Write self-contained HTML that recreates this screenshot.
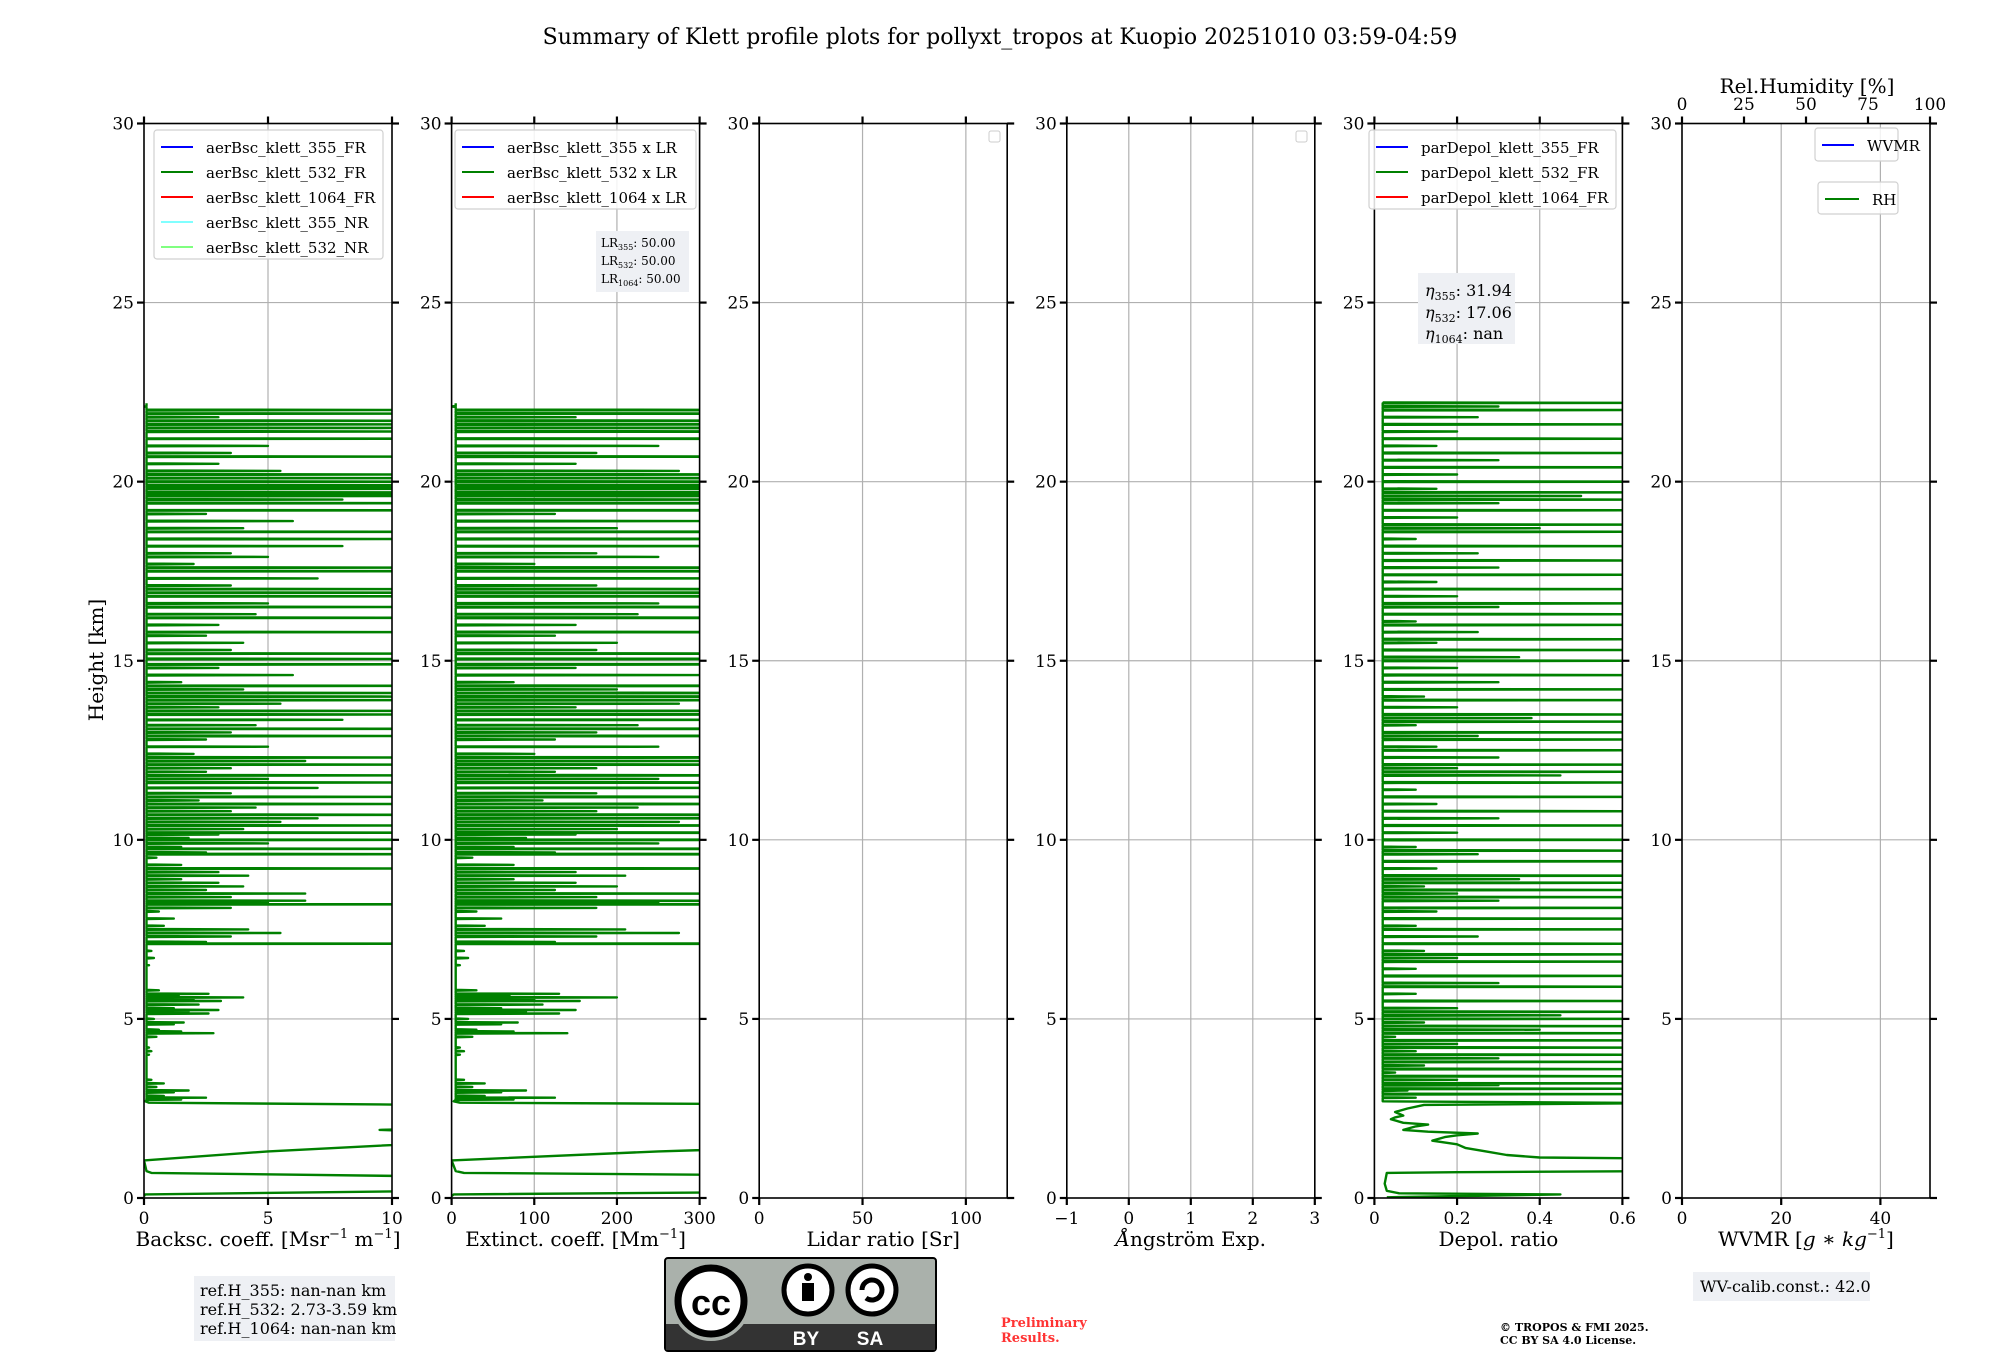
<!DOCTYPE html>
<html><head><meta charset="utf-8">
<style>
html,body{margin:0;padding:0;background:#fff;}
svg{display:block;font-family:"DejaVu Serif","Liberation Serif",serif;}
</style></head>
<body>
<svg id="fig" width="2000" height="1360" viewBox="0 0 2000 1360" xmlns="http://www.w3.org/2000/svg">
<rect width="2000" height="1360" fill="#fff"/>
<text x="1000" y="44" font-size="22" text-anchor="middle">Summary of Klett profile plots for pollyxt_tropos at Kuopio 20251010 03:59-04:59</text>
<text transform="translate(103,660) rotate(-90)" font-size="20" text-anchor="middle">Height [km]</text>
<g id="panels"></g>
<g>
<rect x="194" y="1276" width="201" height="65" fill="#eef0f4"/>
<text x="200" y="1296" font-size="16">ref.H_355: nan-nan km</text>
<text x="200" y="1315" font-size="16">ref.H_532: 2.73-3.59 km</text>
<text x="200" y="1334" font-size="16">ref.H_1064: nan-nan km</text>
</g>
<g>
<rect x="1693" y="1272" width="177" height="29" fill="#eef0f4"/>
<text x="1700" y="1292" font-size="16">WV-calib.const.: 42.0</text>
</g>
<g>
<rect x="665" y="1258" width="271" height="93" rx="3" fill="#aab1ab" stroke="#000" stroke-width="2"/>
<rect x="666" y="1324" width="269" height="26" fill="#333"/>
<circle cx="711" cy="1301" r="40" fill="#aab1ab"/>
<circle cx="711" cy="1301" r="33" fill="#fff" stroke="#000" stroke-width="7"/>
<text x="711" y="1315" font-size="36" font-weight="bold" text-anchor="middle" font-family="Liberation Sans,sans-serif">cc</text>
<circle cx="808" cy="1290" r="24" fill="#fff" stroke="#000" stroke-width="5"/>
<circle cx="808" cy="1277" r="4" fill="#000"/>
<rect x="802" y="1283" width="12" height="18" fill="#000"/>
<circle cx="872" cy="1290" r="24" fill="#fff" stroke="#000" stroke-width="5"/>
<path d="M862 1290 a10 10 0 1 1 4 8" fill="none" stroke="#000" stroke-width="5"/>
<text x="806" y="1345" font-size="19" font-weight="bold" fill="#fff" text-anchor="middle" font-family="Liberation Sans,sans-serif">BY</text>
<text x="870" y="1345" font-size="19" font-weight="bold" fill="#fff" text-anchor="middle" font-family="Liberation Sans,sans-serif">SA</text>
</g>
<text x="1001" y="1327" font-size="13" font-weight="bold" fill="#ff3333">Preliminary</text>
<text x="1001" y="1342" font-size="13" font-weight="bold" fill="#ff3333">Results.</text>
<text x="1500" y="1331" font-size="11" font-weight="bold">© TROPOS &amp; FMI 2025.</text>
<text x="1500" y="1344" font-size="11" font-weight="bold">CC BY SA 4.0 License.</text>
<rect x="989" y="131" width="11" height="11" rx="2" fill="#fff" stroke="#ccc"/>
<rect x="1296" y="131" width="11" height="11" rx="2" fill="#fff" stroke="#ccc"/>
<g><rect x="596" y="231" width="93" height="61" fill="#eef0f4"/>
<text x="601" y="247" font-size="12">LR<tspan font-size="8" dy="3">355</tspan><tspan dy="-3">: 50.00</tspan></text>
<text x="601" y="265" font-size="12">LR<tspan font-size="8" dy="3">532</tspan><tspan dy="-3">: 50.00</tspan></text>
<text x="601" y="283" font-size="12">LR<tspan font-size="8" dy="3">1064</tspan><tspan dy="-3">: 50.00</tspan></text></g>
<g><rect x="1418" y="273" width="97" height="71" fill="#eef0f4"/>
<text x="1425" y="296" font-size="16"><tspan font-style="italic">η</tspan><tspan font-size="11" dy="4">355</tspan><tspan dy="-4">: 31.94</tspan></text>
<text x="1425" y="318" font-size="16"><tspan font-style="italic">η</tspan><tspan font-size="11" dy="4">532</tspan><tspan dy="-4">: 17.06</tspan></text>
<text x="1425" y="339" font-size="16"><tspan font-style="italic">η</tspan><tspan font-size="11" dy="4">1064</tspan><tspan dy="-4">: nan</tspan></text></g>
</svg>
<script>
// ---- data ----
// continuous lower profile (km, value)
const lowBscH = [0.05,0.1,0.2,0.6,0.7,0.75,1.05,1.3,1.55,1.85,1.9,1.95,2.6,2.66,2.7];
const lowBscV = [0,0.05,12,12,0.3,0.1,0,5,12,12,9.5,12,12,0.2,0.05];
// spikes above (km, value)
const spikeBscH = [2.75,2.8,2.85,2.95,3.0,3.1,3.2,3.3,4.0,4.1,4.2,4.5,4.6,4.65,4.7,4.85,4.9,5.0,5.15,5.2,5.25,5.3,5.4,5.5,5.55,5.6,5.65,5.7,5.8,6.5,6.7,6.9,7.1,7.15,7.3,7.4,7.5,7.6,7.8,8.0,8.1,8.2,8.25,8.3,8.4,8.5,8.6,8.7,8.8,8.9,9.0,9.1,9.2,9.3,9.5,9.6,9.65,9.75,9.8,9.9,10.0,10.05,10.15,10.2,10.3,10.4,10.5,10.6,10.7,10.8,10.9,11.0,11.1,11.2,11.3,11.45,11.6,11.7,11.8,11.9,12.0,12.1,12.2,12.3,12.4,12.6,12.8,12.9,13.0,13.1,13.2,13.35,13.5,13.6,13.7,13.8,13.9,14.0,14.1,14.2,14.3,14.4,14.6,14.8,14.9,15.05,15.2,15.3,15.5,15.7,15.8,16.0,16.2,16.3,16.5,16.6,16.8,16.9,17.0,17.1,17.3,17.5,17.6,17.7,17.9,18.0,18.2,18.4,18.6,18.7,18.9,19.1,19.2,19.4,19.5,19.6,19.65,19.7,19.8,19.85,19.9,20.0,20.1,20.2,20.3,20.5,20.7,20.8,21.0,21.2,21.4,21.5,21.6,21.7,21.8,21.9,22.0,22.1,22.2,22.3];
const spikeBscV = [1.5,2.5,0.8,1.2,1.8,0.5,0.8,0.3,0.2,0.3,0.2,0.5,2.8,1.5,0.6,1.2,1.6,0.4,2.6,1.8,3.0,1.2,2.2,3.1,2.0,4.0,1.4,2.6,0.6,0.2,0.4,0.3,12,2.5,3.5,5.5,4.2,0.8,1.2,0.6,3.5,12,5,6.5,3.5,6.5,2.5,4,3,1.5,4.2,3,12,1.5,0.5,12,2.5,12,1.5,5,12,1.8,3,12,4,12,5.5,7,12,3.5,4.5,12,2.2,12,3.5,7,12,5,12,2.5,3.5,12,6.5,12,2,5,2.5,12,3.5,12,4.5,8,12,12,3,5.5,12,12,12,4,12,1.5,6,3,12,12,12,3.5,4,2.5,12,3,12,4.5,12,5,12,12,12,3.5,7,12,12,2,5,3.5,8,12,12,4,6,2.5,12,12,8,12,12,12,12,12,12,12,12,12,5.5,3,12,3.5,5,12,12,12,12,12,3,12,12,0];
const lidarRatio = [50,50,50];
const lowDepH = [0.02,0.1,0.13,0.2,0.4,0.7,0.72,0.75,1.1,1.13,1.2,1.3,1.4,1.5,1.6,1.7,1.75,1.8,1.85,1.9,2.0,2.05,2.1,2.2,2.25,2.3,2.4,2.5,2.6,2.65,2.7];
const lowDepV = [0.03,0.45,0.06,0.03,0.025,0.03,0.2,0.7,0.7,0.4,0.32,0.27,0.22,0.2,0.14,0.17,0.2,0.25,0.13,0.07,0.1,0.13,0.07,0.04,0.05,0.07,0.05,0.08,0.12,0.7,0.02];
const spikeDepH = [2.8,2.9,3.0,3.05,3.15,3.2,3.3,3.4,3.5,3.6,3.7,3.8,3.9,4.0,4.1,4.2,4.3,4.4,4.5,4.6,4.7,4.8,4.9,5.0,5.1,5.2,5.3,5.5,5.7,5.9,6.0,6.2,6.4,6.6,6.7,6.8,6.9,7.1,7.3,7.5,7.6,7.8,8.0,8.1,8.3,8.4,8.5,8.6,8.7,8.8,8.9,9.0,9.2,9.4,9.6,9.7,9.8,10.0,10.2,10.4,10.6,10.8,11.0,11.2,11.4,11.6,11.8,11.9,12.0,12.1,12.3,12.5,12.6,12.8,12.9,13.0,13.2,13.3,13.4,13.5,13.7,13.9,14.0,14.2,14.4,14.6,14.8,15.0,15.1,15.3,15.5,15.6,15.8,16.0,16.1,16.3,16.5,16.6,16.8,17.0,17.2,17.4,17.6,17.8,18.0,18.2,18.4,18.6,18.7,18.8,19.0,19.2,19.4,19.5,19.6,19.7,19.8,20.0,20.2,20.4,20.6,20.8,21.0,21.2,21.4,21.6,21.8,22.0,22.1,22.2];
const depValues = [0.1,0.7,0.08,0.7,0.3,0.7,0.2,0.7,0.05,0.7,0.12,0.7,0.3,0.7,0.1,0.7,0.2,0.7,0.05,0.7,0.4,0.7,0.12,0.7,0.45,0.7,0.2,0.7,0.1,0.7,0.3,0.7,0.1,0.7,0.2,0.7,0.12,0.7,0.25,0.7,0.1,0.7,0.15,0.7,0.3,0.7,0.2,0.7,0.12,0.7,0.35,0.7,0.15,0.7,0.25,0.7,0.1,0.7,0.2,0.7,0.3,0.7,0.15,0.7,0.1,0.7,0.45,0.7,0.2,0.7,0.3,0.7,0.15,0.7,0.25,0.7,0.1,0.7,0.38,0.7,0.2,0.7,0.12,0.7,0.3,0.7,0.2,0.7,0.35,0.7,0.15,0.7,0.25,0.7,0.1,0.7,0.3,0.7,0.2,0.7,0.15,0.7,0.3,0.7,0.25,0.7,0.1,0.7,0.4,0.7,0.2,0.7,0.3,0.7,0.5,0.7,0.15,0.7,0.2,0.7,0.3,0.7,0.15,0.7,0.2,0.7,0.25,0.7,0.3,0.7];
const yTicks = [0,5,10,15,20,25,30];

// ---- layout ----
const NS = "http://www.w3.org/2000/svg";
const top0 = 123.5, bot0 = 1198;
const yScale = h => bot0 - (h/30)*(bot0-top0);
const root = document.getElementById('panels');
function el(tag, attrs, parent, txt){
  const e = document.createElementNS(NS, tag);
  for (const k in attrs) e.setAttribute(k, attrs[k]);
  if (txt !== undefined) e.textContent = txt;
  (parent||root).appendChild(e);
  return e;
}
const panels = [
 {name:'backscatter', min:0,max:10,ticks:[0,5,10],label:'Backsc. coeff. [Msr<tspan dy="-8" font-size="13">−1</tspan><tspan dy="8"> m</tspan><tspan dy="-8" font-size="13">−1</tspan><tspan dy="8">]</tspan>'},
 {name:'extinction', min:0,max:300,ticks:[0,100,200,300],label:'Extinct. coeff. [Mm<tspan dy="-8" font-size="13">−1</tspan><tspan dy="8">]</tspan>'},
 {name:'lidar-ratio', min:0,max:120,ticks:[0,50,100],label:'Lidar ratio [Sr]'},
 {name:'angstrom', min:-1,max:3,ticks:[-1,0,1,2,3],label:'<tspan font-style="italic">Å</tspan>ngström Exp.'},
 {name:'depol', min:0,max:0.6,ticks:[0,0.2,0.4,0.6],label:'Depol. ratio'},
 {name:'wvmr', min:0,max:50,ticks:[0,20,40],label:'WVMR [<tspan font-style="italic">g</tspan> ∗ <tspan font-style="italic">kg</tspan><tspan dy="-8" font-size="13">−1</tspan><tspan dy="8">]</tspan>'}
];
const tickFmt = v => (Math.abs(v)<1e-9? '0' : (Math.abs(v)<1? v.toFixed(1): (v<0?'−'+(-v):String(v))));
panels.forEach((p,i)=>{
  const L = 144 + i*307.6, W = 248;
  const g = el('g',{});
  
  
  const xs = v => L + (v-p.min)/(p.max-p.min)*W;
  p.xs = xs; p.L = L; p.g = g;
  p.ticks.forEach(t=>{ if (t>p.min && t<p.max){ const ln=el('line',{x1:xs(t),x2:xs(t),y1:top0,y2:bot0,stroke:'#b0b0b0','stroke-width':1.2},g);
     }});
  yTicks.forEach(t=>{ if(t>0&&t<30){ const ln=el('line',{x1:L,x2:L+W,y1:yScale(t),y2:yScale(t),stroke:'#b0b0b0','stroke-width':1.2},g);
     }});
  yTicks.forEach(t=>{
    el('line',{x1:L-7,x2:L,y1:yScale(t),y2:yScale(t),stroke:'#000','stroke-width':2.2},g);
    el('line',{x1:L+W,x2:L+W+7,y1:yScale(t),y2:yScale(t),stroke:'#000','stroke-width':2.2},g);
    const tl = el('text',{x:L-10,y:yScale(t)+6,'font-size':17,'text-anchor':'end'},g,String(t));
     
  });
  p.ticks.forEach(t=>{
    el('line',{x1:xs(t),x2:xs(t),y1:bot0,y2:bot0+7,stroke:'#000','stroke-width':2.2},g);
    if (i!==5) el('line',{x1:xs(t),x2:xs(t),y1:top0-7,y2:top0,stroke:'#000','stroke-width':2.2},g);
    const tl = el('text',{x:xs(t),y:bot0+26,'font-size':17,'text-anchor':'middle'},g,tickFmt(t));
     
  });
  const xl = el('text',{x:L+W/2,y:1246,'font-size':20,'text-anchor':'middle'},g);
  xl.innerHTML = p.label;
  
  
  const cp = el('clipPath',{id:'clip'+i},g);
  el('rect',{x:L,y:top0,width:W,height:bot0-top0},cp);
});
function drawProfile(p, lh, lv, sh, sv, base, scale, name){
  let d='';
  lh.forEach((h,k)=>{ d += (k?'L':'M') + p.xs(lv[k]*scale).toFixed(1)+' '+yScale(h).toFixed(1); });
  sh.forEach((h,k)=>{
    d += 'L' + p.xs(base*scale).toFixed(1)+' '+yScale(h-0.012).toFixed(1);
    d += 'L' + p.xs(sv[k]*scale).toFixed(1)+' '+yScale(h).toFixed(1);
    d += 'L' + p.xs(base*scale).toFixed(1)+' '+yScale(h+0.012).toFixed(1);
  });
  const path = el('path',{d:d,fill:'none',stroke:'#008000','stroke-width':2.4,'stroke-linejoin':'round','clip-path':'url(#clip'+panels.indexOf(p)+')'},p.g);
  
  
}
drawProfile(panels[0], lowBscH, lowBscV, spikeBscH, spikeBscV, 0.1, 1, 'aerbsc-532-line');
drawProfile(panels[1], lowBscH, lowBscV, spikeBscH, spikeBscV, 0.1, lidarRatio[1], 'aerext-532-line');
drawProfile(panels[4], lowDepH, lowDepV, spikeDepH, depValues, 0.02, 1, 'pardepol-532-line');
panels.forEach((p,i)=>{
  const f = el('rect',{x:p.L,y:top0,width:248,height:bot0-top0,fill:'none',stroke:'#000','stroke-width':1.6},p.g);
   
});
const p6 = panels[5];
const rhTicks = [0,25,50,75,100];
rhTicks.forEach(t=>{
  const x = p6.L + t/100*248;
  el('line',{x1:x,x2:x,y1:top0-7,y2:top0,stroke:'#000','stroke-width':2.2},p6.g);
  const tl = el('text',{x:x,y:110,'font-size':17,'text-anchor':'middle'},p6.g,String(t));
   
});
const rht = el('text',{x:1807,y:93,'font-size':20,'text-anchor':'middle'},p6.g,'Rel.Humidity [%]');
 

function legend(x,y,w,h,items,name,lineLen,fs,step){
  const g = el('g',{});
  
  
  el('rect',{x:x,y:y,width:w,height:h,rx:3,fill:'#fff','fill-opacity':0.85,stroke:'#d0d0d0','stroke-width':1.2},g);
  items.forEach((it,k)=>{
    const cy = y+17+k*step;
    el('line',{x1:x+7,x2:x+7+lineLen,y1:cy,y2:cy,stroke:it[1],'stroke-width':2},g);
    el('text',{x:x+7+lineLen+13,y:cy+6,'font-size':fs},g,it[0]);
  });
}
legend(154,130,229,129,[['aerBsc_klett_355_FR','#0000ff'],['aerBsc_klett_532_FR','#008000'],['aerBsc_klett_1064_FR','#ff0000'],['aerBsc_klett_355_NR','#80ffff'],['aerBsc_klett_532_NR','#80ff80']],'legend-backscatter',32,15,25);
legend(455,130,241,79,[['aerBsc_klett_355 x LR','#0000ff'],['aerBsc_klett_532 x LR','#008000'],['aerBsc_klett_1064 x LR','#ff0000']],'legend-extinction',32,15,25);
legend(1369,130,247,79,[['parDepol_klett_355_FR','#0000ff'],['parDepol_klett_532_FR','#008000'],['parDepol_klett_1064_FR','#ff0000']],'legend-depol',32,15,25);
legend(1815,128,83,33,[['WVMR','#0000ff']],'legend-wvmr',32,15,25);
legend(1818,182,80,32,[['RH','#008000']],'legend-rh',34,15,25);
</script>
</body></html>
